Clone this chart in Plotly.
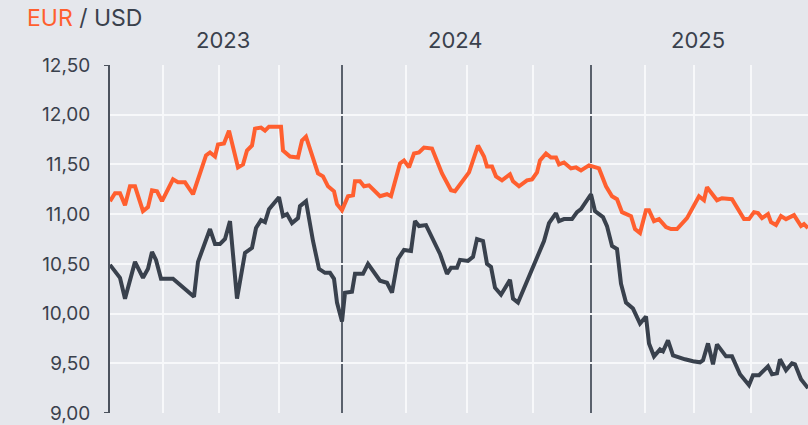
import plotly.graph_objects as go

# Trading-day index (0 = first day shown) and EUR/USD-style values
orange_day = [0, 5, 10, 15, 20, 25, 33, 38, 42, 47, 52, 63, 68, 75, 83, 96, 100, 105, 108, 114,
              119, 128, 133, 137, 142, 145, 151, 155, 159, 171, 173, 180, 188, 192, 196, 208, 213,
              218, 224, 227, 232, 238, 243, 245, 250, 254, 259, 270, 277, 281, 290, 294, 299, 304,
              309, 314, 322, 332, 341, 345, 359, 368, 374, 377, 382, 386, 392, 400, 403, 409, 417,
              422, 427, 430, 436, 441, 446, 449, 454, 461, 466, 471, 479, 484, 489, 496, 502, 507,
              512, 521, 525, 530, 536, 539, 544, 549, 556, 561, 567, 577, 584, 589, 594, 597, 607,
              612, 622, 634, 639, 644, 648, 652, 658, 661, 666, 671, 676, 684, 691, 694, 698]
orange_val = [11.13, 11.21, 11.21, 11.09, 11.28, 11.28, 11.03, 11.07, 11.24, 11.23, 11.13, 11.35,
              11.32, 11.32, 11.20, 11.59, 11.62, 11.58, 11.70, 11.71, 11.84, 11.47, 11.50, 11.64,
              11.69, 11.86, 11.87, 11.84, 11.88, 11.88, 11.64, 11.58, 11.57, 11.74, 11.78, 11.41,
              11.38, 11.28, 11.23, 11.10, 11.04, 11.18, 11.19, 11.33, 11.33, 11.28, 11.29, 11.18,
              11.20, 11.18, 11.51, 11.54, 11.47, 11.61, 11.62, 11.67, 11.66, 11.41, 11.24, 11.23,
              11.42, 11.69, 11.58, 11.48, 11.48, 11.38, 11.34, 11.40, 11.33, 11.28, 11.34, 11.35,
              11.42, 11.54, 11.61, 11.57, 11.57, 11.50, 11.52, 11.46, 11.47, 11.44, 11.49, 11.48,
              11.46, 11.28, 11.18, 11.15, 11.02, 10.98, 10.85, 10.81, 11.04, 11.04, 10.93, 10.95,
              10.87, 10.85, 10.85, 10.96, 11.08, 11.18, 11.14, 11.27, 11.14, 11.16, 11.15, 10.95,
              10.95, 11.02, 11.01, 10.96, 11.00, 10.92, 10.89, 10.98, 10.95, 10.99, 10.88, 10.90,
              10.86]

dark_day = [0, 10, 15, 25, 33, 38, 42, 46, 51, 63, 84, 88, 100, 105, 110, 115, 120, 127, 135, 142,
            146, 151, 155, 159, 169, 173, 177, 182, 188, 190, 196, 203, 209, 215, 220, 224, 227,
            232, 235, 242, 245, 253, 258, 270, 277, 282, 288, 294, 301, 305, 309, 316, 330, 337,
            341, 347, 350, 358, 363, 367, 373, 377, 381, 385, 391, 400, 403, 408, 434, 439, 446,
            449, 454, 462, 467, 471, 481, 485, 493, 497, 502, 507, 511, 516, 523, 530, 536, 539,
            544, 550, 553, 558, 563, 568, 575, 583, 590, 593, 598, 603, 607, 616, 622, 630, 639,
            643, 649, 658, 662, 667, 670, 676, 682, 685, 691, 698]
dark_val = [10.49, 10.36, 10.15, 10.52, 10.36, 10.45, 10.62, 10.54, 10.35, 10.35, 10.17, 10.52,
            10.85, 10.70, 10.70, 10.75, 10.93, 10.15, 10.61, 10.66, 10.86, 10.94, 10.92, 11.05,
            11.17, 10.98, 11.00, 10.91, 10.96, 11.08, 11.13, 10.73, 10.45, 10.41, 10.41, 10.35,
            10.11, 9.92, 10.21, 10.22, 10.40, 10.40, 10.50, 10.33, 10.31, 10.21, 10.55, 10.64,
            10.63, 10.93, 10.88, 10.89, 10.60, 10.40, 10.46, 10.46, 10.54, 10.53, 10.57, 10.75,
            10.73, 10.50, 10.47, 10.26, 10.19, 10.34, 10.15, 10.11, 10.73, 10.91, 11.01, 10.93,
            10.95, 10.95, 11.02, 11.05, 11.20, 11.03, 10.97, 10.88, 10.68, 10.65, 10.30, 10.11,
            10.05, 9.90, 9.97, 9.70, 9.57, 9.64, 9.62, 9.73, 9.58, 9.56, 9.54, 9.52, 9.51, 9.53,
            9.70, 9.49, 9.69, 9.57, 9.57, 9.39, 9.28, 9.38, 9.38, 9.47, 9.39, 9.40, 9.54, 9.43,
            9.50, 9.49, 9.34, 9.25]

year_labels = ["2023", "2024", "2025"]
year_label_day = [113, 345, 588]
year_start_day = [232, 481]
grid_day = [53, 109, 169, 296, 357, 423, 535, 584, 641]
y_ticks = [9.0, 9.5, 10.0, 10.5, 11.0, 11.5, 12.0, 12.5]

BG = "#e5e7ec"
ORANGE = "#ff5f2f"
DARK = "#39414d"
TEXT = "#3a414c"
FONT = "Inter"

fig = go.Figure()
fig.add_trace(go.Scatter(x=orange_day, y=orange_val, mode="lines",
                         line=dict(color=ORANGE, width=4), hoverinfo="skip"))
fig.add_trace(go.Scatter(x=dark_day, y=dark_val, mode="lines",
                         line=dict(color=DARK, width=4), hoverinfo="skip"))

shapes = []
for d in year_start_day:
    shapes.append(dict(type="line", xref="x", yref="paper", x0=d, x1=d, y0=0, y1=1,
                       line=dict(color="#5a616c", width=2), layer="below"))
# outer ticks of the value axis (top and bottom)
for yv in (9.0, 12.5):
    shapes.append(dict(type="line", xref="paper", yref="y", x0=-6 / 698, x1=0, y0=yv, y1=yv,
                       line=dict(color="#4b525d", width=2)))
annotations = []
for lab, d in zip(year_labels, year_label_day):
    annotations.append(dict(text=lab, x=d, xref="x", y=1 + 25 / 352, yref="paper",
                            xanchor="center", yanchor="middle", showarrow=False,
                            font=dict(family=FONT, size=22, color=TEXT)))

fig.update_layout(
    width=808, height=425,
    margin=dict(l=110, r=0, t=65, b=8),
    paper_bgcolor=BG, plot_bgcolor=BG,
    showlegend=False,
    separators=",.",
    title=dict(text=f'<span style="color:{ORANGE}">EUR</span> / USD',
               x=27 / 808, xref="container", xanchor="left",
               y=1 - 18 / 425, yref="container", yanchor="middle",
               font=dict(family=FONT, size=23, color=TEXT)),
    shapes=shapes, annotations=annotations,
    xaxis=dict(range=[0, 698], tickvals=grid_day, showticklabels=False, ticks="",
               showgrid=True, gridcolor="#f7f8fa", gridwidth=1.6, zeroline=False,
               showline=False, fixedrange=True),
    yaxis=dict(range=[9.0, 12.5], tickvals=y_ticks, tickformat=".2f", ticks="",
               showgrid=True, gridcolor="#f7f8fa", gridwidth=1.6, zeroline=False,
               showline=True, linecolor="#4b525d", linewidth=2,
               ticklabelstandoff=14, ticklabeloverflow="allow",
               tickfont=dict(family=FONT, size=19, color=TEXT), fixedrange=True),
)

fig.write_html("out.html", config={"displayModeBar": False},
               post_script="document.body.style.margin='0';document.body.style.background='%s';" % BG)
